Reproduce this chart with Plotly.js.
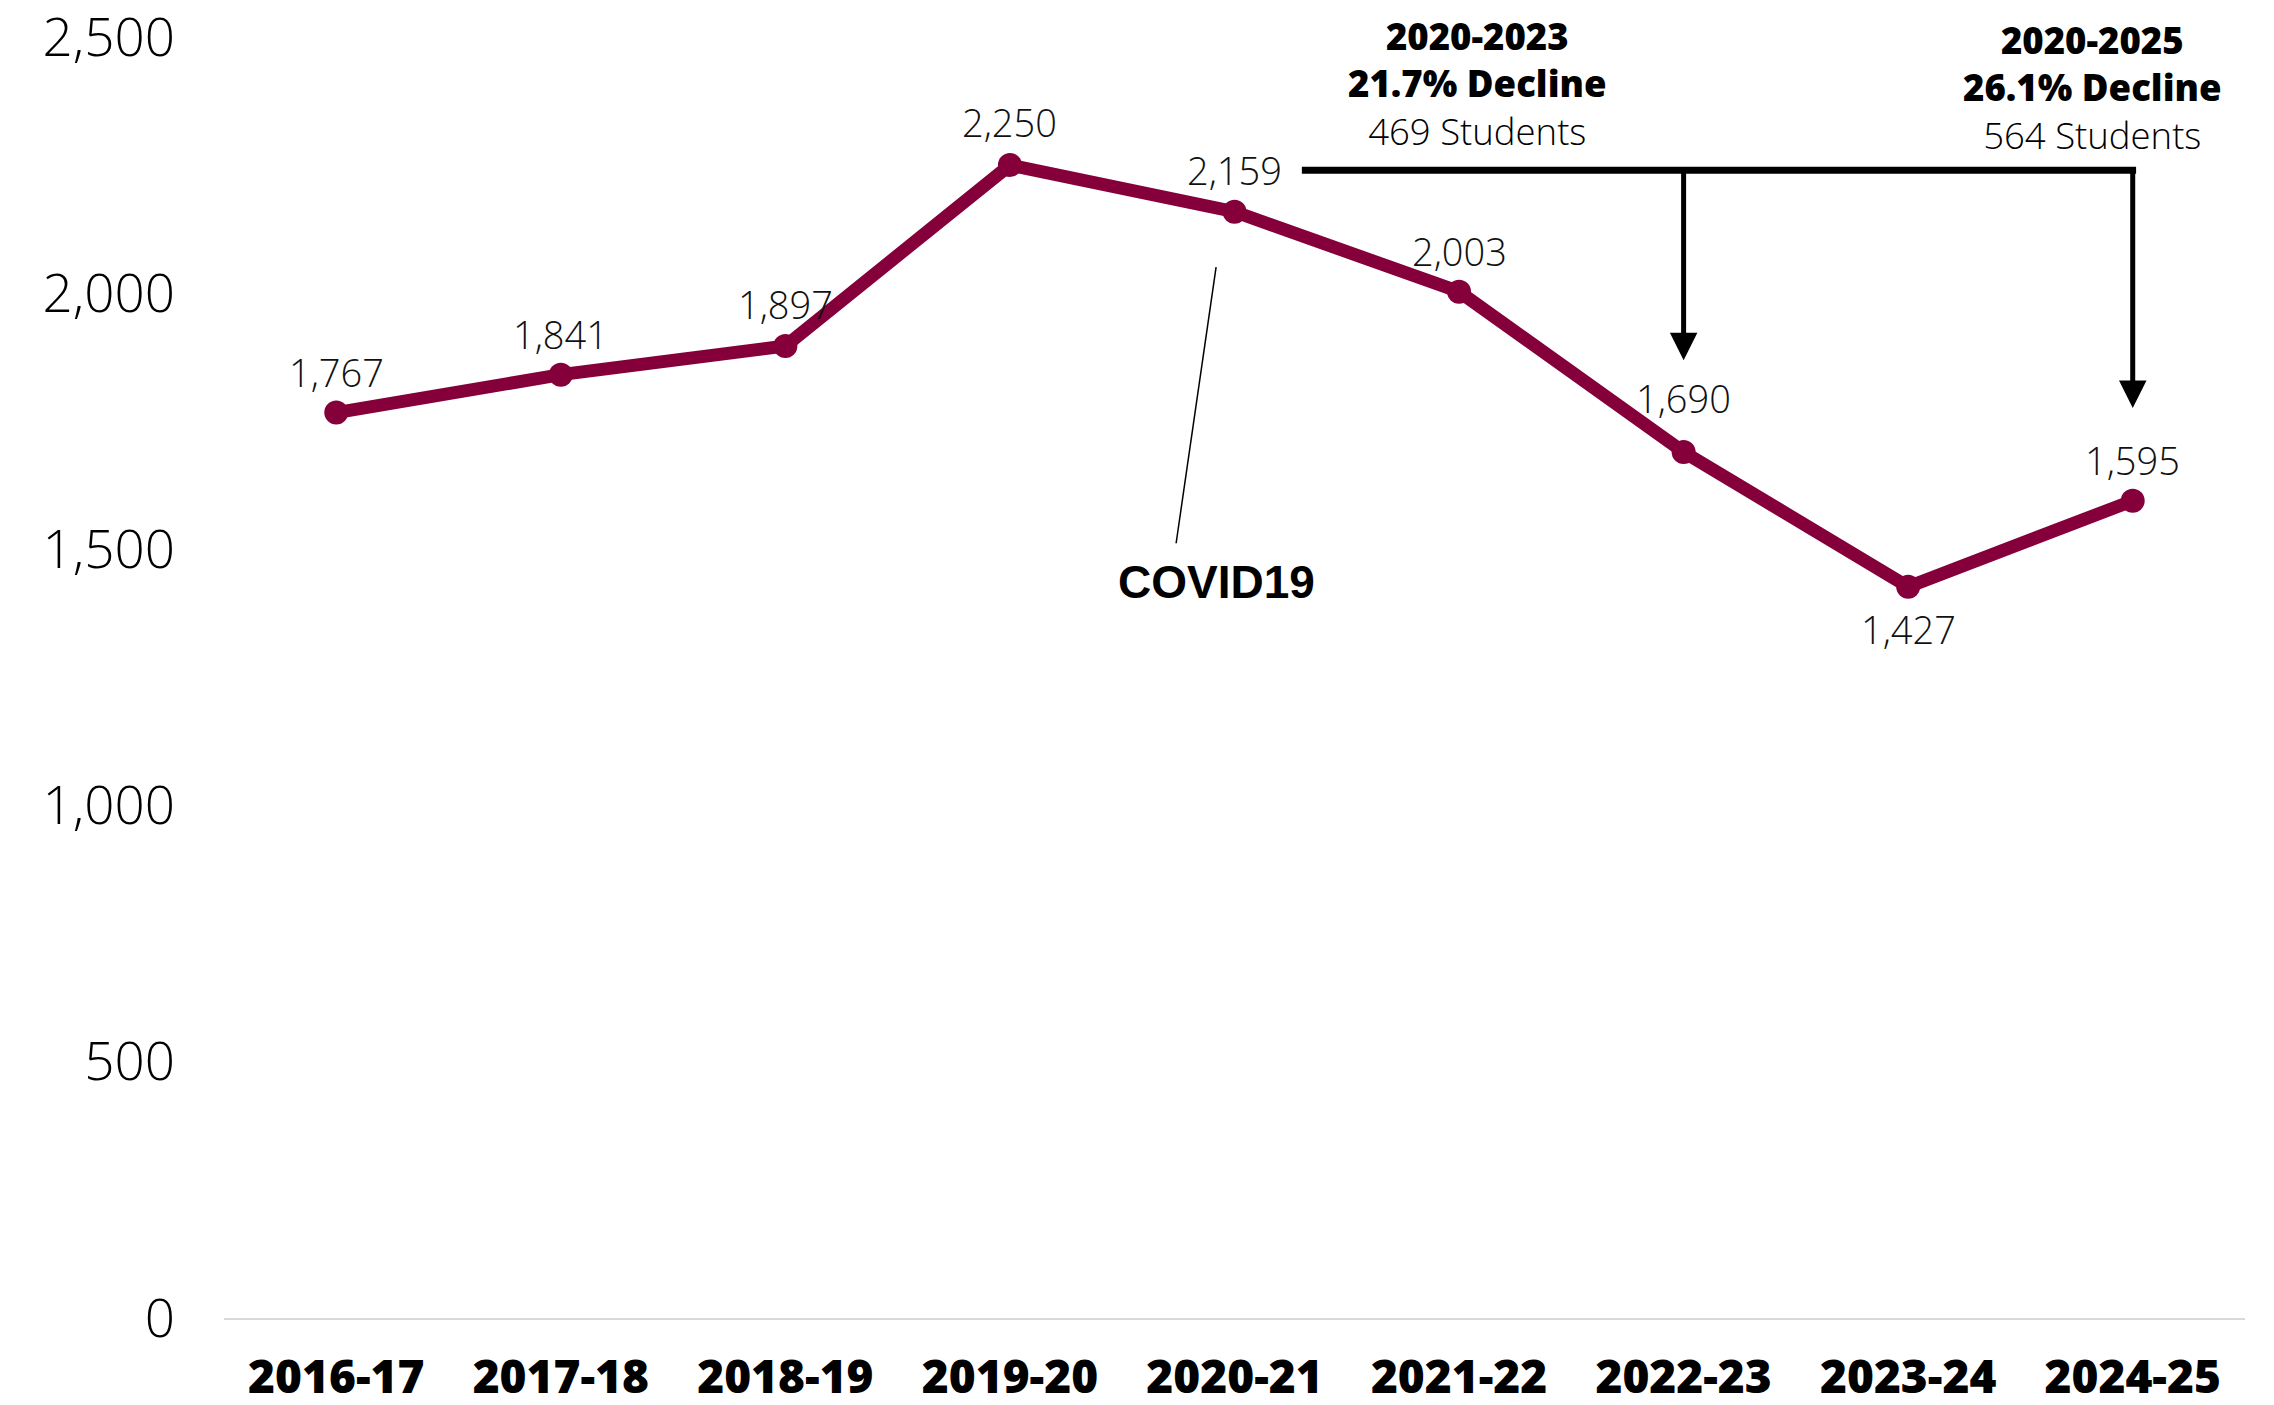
<!DOCTYPE html>
<html>
<head>
<meta charset="utf-8">
<script src="https://cdn.plot.ly/plotly-3.0.1.min.js"></script>
<style>html,body{margin:0;padding:0;background:#fff;}#chart{width:2274px;height:1405px;}</style>
</head>
<body>
<div id="chart"></div>
<script>
const years = ["2016-17","2017-18","2018-19","2019-20","2020-21","2021-22","2022-23","2023-24","2024-25"];
const students = [1767, 1841, 1897, 2250, 2159, 2003, 1690, 1427, 1595];
const labelShifts = [41, 41, 42, 43, 42, 41, 54, -42, 41];
const yTicks = [0, 500, 1000, 1500, 2000, 2500];

const maroon = "#85003A";
const lightFont = "Open Sans, Lato, sans-serif";

const trace = {
  type: "scatter",
  mode: "lines+markers",
  x: years,
  y: students,
  line: {color: maroon, width: 13},
  marker: {color: maroon, size: 24},
  cliponaxis: false,
  hoverinfo: "skip"
};

const valueLabels = years.map((yr, i) => ({
  x: yr, y: students[i], xref: "x", yref: "y",
  text: students[i].toLocaleString("en-US"),
  showarrow: false, xanchor: "center", yanchor: "middle",
  yshift: labelShifts[i],
  font: {family: lightFont, size: 38, color: "#111", weight: 300}
}));

const bracketY = 2240;
const layout = {
  width: 2274, height: 1405,
  margin: {l: 224, r: 29, t: 37, b: 87},
  paper_bgcolor: "#fff", plot_bgcolor: "#fff",
  showlegend: false,
  xaxis: {
    type: "category",
    range: [-0.5, 8.5],
    showgrid: false, zeroline: false,
    showline: true, linecolor: "#d9d9d9", linewidth: 2,
    ticks: "",
    ticklabelstandoff: 18,
    tickfont: {family: "Open Sans, sans-serif", size: 46, color: "#000", weight: 800}
  },
  yaxis: {
    range: [0, 2500],
    tickvals: yTicks,
    tickformat: ",d",
    ticklabeloverflow: "allow",
    showgrid: false, zeroline: false, showline: false,
    ticks: "",
    ticklabelstandoff: 48,
    tickfont: {family: lightFont, size: 53, color: "#000", weight: 300}
  },
  shapes: [
    {type: "line", xref: "x", yref: "y", x0: 4.30, x1: 8.015, y0: bracketY, y1: bracketY,
     line: {color: "#000", width: 7}},
    {type: "line", xref: "x", yref: "y", x0: 3.918, x1: 3.74, y0: 2051, y1: 1512,
     line: {color: "#000", width: 1.5}}
  ],
  annotations: valueLabels.concat([
    {x: 6, y: 1869, ax: 6, ay: bracketY, xref: "x", yref: "y", axref: "x", ayref: "y",
     text: "", showarrow: true, arrowhead: 2, arrowsize: 1.1, arrowwidth: 5, arrowcolor: "#000"},
    {x: 8, y: 1776, ax: 8, ay: bracketY, xref: "x", yref: "y", axref: "x", ayref: "y",
     text: "", showarrow: true, arrowhead: 2, arrowsize: 1.1, arrowwidth: 5, arrowcolor: "#000"},
    {x: 5.08, y: 2410, xref: "x", yref: "y", showarrow: false, xanchor: "center", yanchor: "middle",
     text: "<span style='font-weight:800'>2020-2023</span><br><span style='font-weight:800'>21.7% Decline</span><br><span style='font-weight:300'>469 Students</span>",
     font: {family: lightFont, size: 36.5, color: "#000"}},
    {x: 7.82, y: 2402, xref: "x", yref: "y", showarrow: false, xanchor: "center", yanchor: "middle",
     text: "<span style='font-weight:800'>2020-2025</span><br><span style='font-weight:800'>26.1% Decline</span><br><span style='font-weight:300'>564 Students</span>",
     font: {family: lightFont, size: 36.5, color: "#000"}},
    {x: 3.918, y: 1436, xref: "x", yref: "y", showarrow: false, xanchor: "center", yanchor: "middle",
     text: "<b>COVID19</b>",
     font: {family: "Liberation Sans, Arial, sans-serif", size: 46, color: "#000"}}
  ])
};

Plotly.newPlot("chart", [trace], layout, {displayModeBar: false, staticPlot: true});
</script>
</body>
</html>
